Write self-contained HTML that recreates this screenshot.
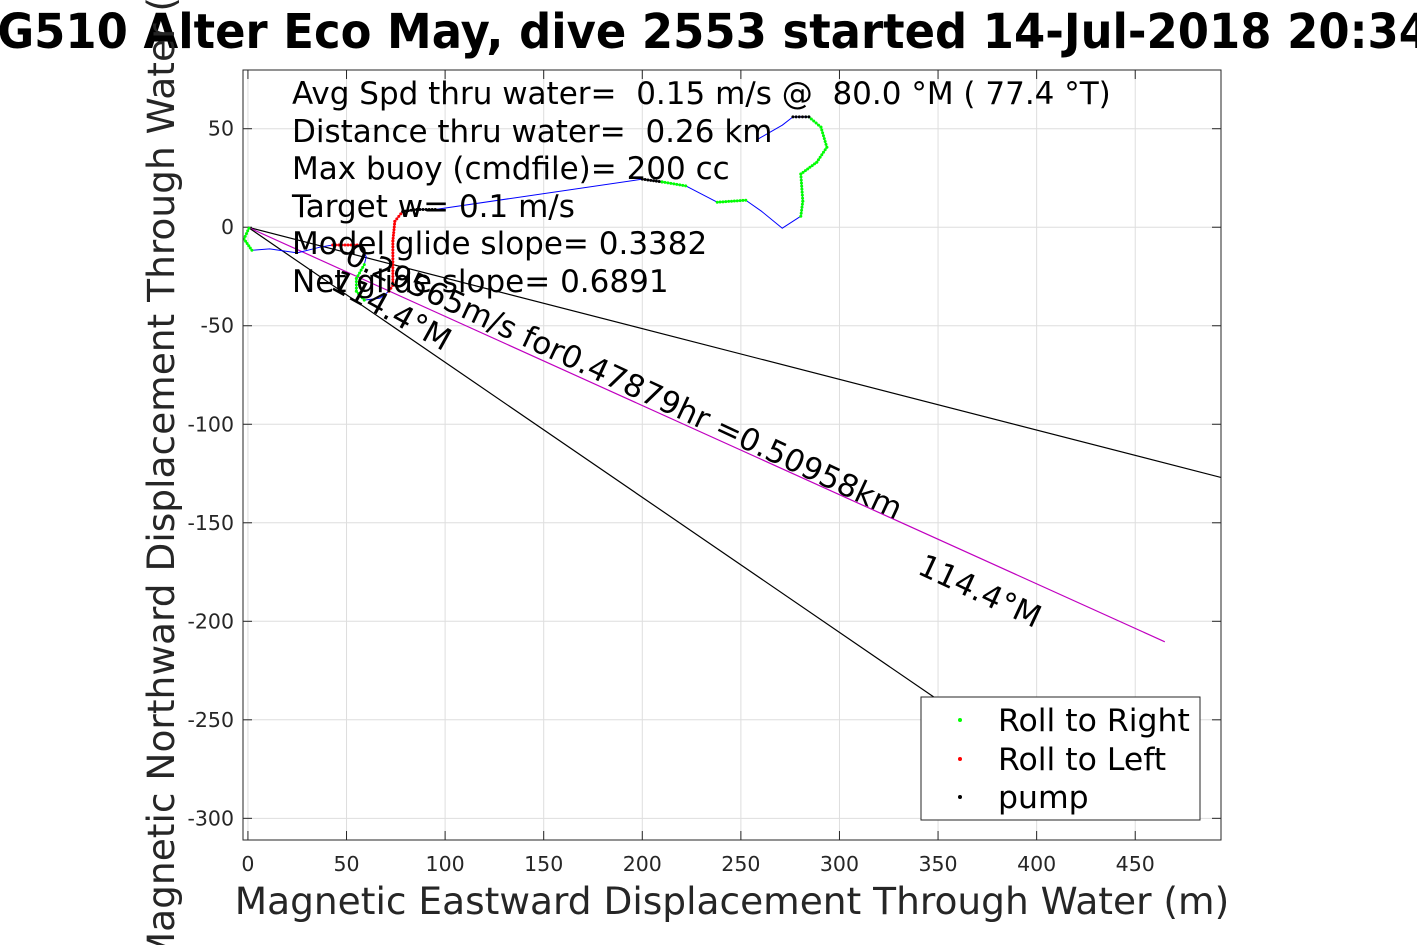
<!DOCTYPE html>
<html><head><meta charset="utf-8"><style>
html,body{margin:0;padding:0;background:#fff;}
svg{display:block;font-family:"DejaVu Sans","Liberation Sans",sans-serif;}
text{white-space:pre;}
</style></head><body>
<svg id="chart" width="1417" height="945" viewBox="0 0 1417 945">
<defs><clipPath id="plotclip"><rect x="243" y="70" width="978" height="770"/></clipPath></defs>
<rect x="243" y="70" width="978" height="770" fill="#fff"/>
<g id="grid"></g>
<g id="ticks"></g>
<g id="series" clip-path="url(#plotclip)"></g>
<rect x="243" y="70" width="978" height="770" fill="none" stroke="#262626" stroke-width="1"/>
<text x="-35" y="48" font-size="48" font-weight="bold" textLength="1465" lengthAdjust="spacingAndGlyphs">SG510 Alter Eco May, dive 2553 started 14-Jul-2018 20:34</text>
<text transform="translate(174,455) rotate(-90)" text-anchor="middle" font-size="37.5" fill="#262626">Magnetic Northward Displacement Through Water (m)</text>
<text x="732" y="914" text-anchor="middle" font-size="37.5" fill="#262626">Magnetic Eastward Displacement Through Water (m)</text>
<g font-size="31" fill="#000">
<text x="292" y="104" xml:space="preserve">Avg Spd thru water=  0.15 m/s @  80.0 °M ( 77.4 °T)</text>
<text x="292" y="142" xml:space="preserve">Distance thru water=  0.26 km</text>
<text x="292" y="179">Max buoy (cmdfile)= 200 cc</text>
<text x="292" y="217">Target w= 0.1 m/s</text>
<text x="292" y="254">Model glide slope= 0.3382</text>
<text x="292" y="292">Net glide slope= 0.6891</text>
</g>
<text transform="translate(343,262) rotate(25)" font-size="31">0.29565m/s for0.47879hr =0.50958km</text>
<text transform="translate(329,288) rotate(29)" font-size="31">114.4°M</text>
<text transform="translate(916,573) rotate(25)" font-size="31">114.4°M</text>
<g>
<rect x="921" y="697" width="279" height="123" fill="#fff" stroke="#262626" stroke-width="1"/>
<circle cx="960" cy="720" r="2" fill="#00ff00"/>
<text x="998" y="731" font-size="31.5">Roll to Right</text>
<circle cx="960" cy="759" r="2" fill="#ff0000"/>
<text x="998" y="770" font-size="31.5">Roll to Left</text>
<circle cx="960" cy="797" r="2" fill="#000"/>
<text x="998" y="808" font-size="31.5">pump</text>
</g>
</svg>
<script>
const xTicks = [0,50,100,150,200,250,300,350,400,450];
const yTicks = [50,0,-50,-100,-150,-200,-250,-300];
const trackX = [0.5,-2,2,11,25,37,43,57,60,59,55,55,59,67,71.5,73.5,73.5,74.5,78.5,85.7,95,200,210,222,238,252.5,260.6,271,280.4,281.4,280.4,288.5,293.6,290.6,284.5,276.4,271,258.6];
const trackY = [-0.5,-6,-11.7,-11,-13,-10,-9,-9,-15,-19,-26,-32.5,-37,-36,-32.5,-29.5,-7,3,8,9,9,24.4,23,21,12.7,13.7,8,-0.5,5.6,13.2,27,33,40.6,50.8,56,56,51.8,44.7];
const segMarker = ['g','g','n','n','n','n','r','n','n','g','g','g','n','n','r','r','r','r','k','k','n','k','g','n','g','n','n','n','g','g','g','g','g','g','k','n','n'];
const lineEndX = [493.5,465,348.4];
const lineEndY = [-127,-210.4,-238.8];
const lineColors = ['#000','#c000c0','#000'];

const X0=243,X1=1221,Y0=70,Y1=840, xmin=-2.5,xmax=493.5,ymin=-311,ymax=79.8;
const sx=v=>X0+(v-xmin)/(xmax-xmin)*(X1-X0);
const sy=v=>Y1-(v-ymin)/(ymax-ymin)*(Y1-Y0);
const NS='http://www.w3.org/2000/svg';
function mk(tag,attrs,parent){const e=document.createElementNS(NS,tag);for(const k in attrs)e.setAttribute(k,attrs[k]);parent.appendChild(e);return e;}
const grid=document.getElementById('grid'),ticks=document.getElementById('ticks'),series=document.getElementById('series');
xTicks.forEach(t=>{const x=sx(t);
 const g=mk('line',{x1:x,x2:x,y1:Y0,y2:Y1,stroke:'#dedede','stroke-width':1},grid);
 
 
 const a=mk('line',{x1:x,x2:x,y1:Y1,y2:Y1-9,stroke:'#262626'},ticks);
 
 
 const b=mk('line',{x1:x,x2:x,y1:Y0,y2:Y0+9,stroke:'#262626'},ticks);
 
 
 const l=mk('text',{x:x,y:871,'text-anchor':'middle','font-size':20.5,fill:'#262626'},ticks);l.textContent=t;
 
 
});
yTicks.forEach(t=>{const y=sy(t);
 const g=mk('line',{x1:X0,x2:X1,y1:y,y2:y,stroke:'#dedede','stroke-width':1},grid);
 
 
 const a=mk('line',{x1:X0,x2:X0+9,y1:y,y2:y,stroke:'#262626'},ticks);
 
 
 const b=mk('line',{x1:X1,x2:X1-9,y1:y,y2:y,stroke:'#262626'},ticks);
 
 
 const l=mk('text',{x:234,y:y+7,'text-anchor':'end','font-size':20.5,fill:'#262626'},ticks);l.textContent=t;
 
 
});
lineEndX.forEach((ex,i)=>{
 const l=mk('line',{x1:sx(0),y1:sy(0),x2:sx(ex),y2:sy(lineEndY[i]),stroke:lineColors[i],'stroke-width':1.2},series);
 
 
});
const pts=trackX.map((x,i)=>sx(x)+','+sy(trackY[i])).join(' ');
const p=mk('polyline',{points:pts,fill:'none',stroke:'#0000ff','stroke-width':1,'stroke-linejoin':'round'},series);


const col={g:'#00ff00',r:'#ff0000',k:'#000'};
segMarker.forEach((m,i)=>{ if(m==='n')return;
 const xa=sx(trackX[i]),ya=sy(trackY[i]),xb=sx(trackX[i+1]),yb=sy(trackY[i+1]);
 const len=Math.hypot(xb-xa,yb-ya),n=Math.max(1,Math.round(len/3));
 for(let k=0;k<=n;k++){const t=k/n;
  const c=mk('circle',{cx:xa+(xb-xa)*t,cy:ya+(yb-ya)*t,r:1.5,fill:col[m]},series);
  
  
 }
});
</script>
</body></html>
